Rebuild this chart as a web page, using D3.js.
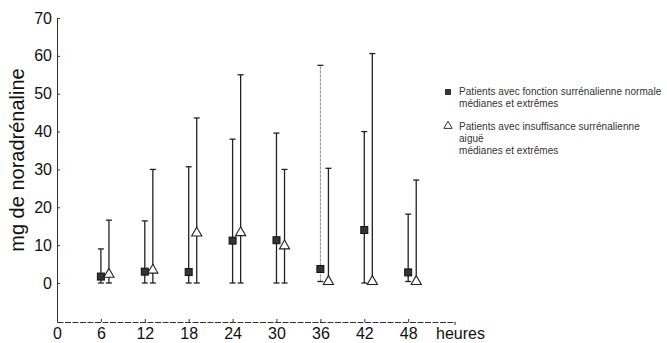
<!DOCTYPE html>
<html>
<head>
<meta charset="utf-8">
<script src="https://cdn.jsdelivr.net/npm/d3@7"></script>
<style>
  body { margin: 0; background: #fff; }
  text { font-family: "Liberation Sans", Arial, sans-serif; fill: #111; }
  .axis path, .axis line { stroke: #333; stroke-width: 1; }
  .legend text { fill: #333; font-size: 10px; letter-spacing: 0.05px; }
</style>
</head>
<body>
<div id="chart"></div>
<script>
// hours (x), medians and extremes for each group
var heures = [6, 12, 18, 24, 30, 36, 42, 48];
var xTicks = [0, 6, 12, 18, 24, 30, 36, 42, 48];
var yTicks = [0, 10, 20, 30, 40, 50, 60, 70];

// patients with normal adrenal function (squares)
var normMed = [1.7, 3.0, 2.9, 11.2, 11.3, 3.7, 14.0, 2.8];
var normMin = [0, 0, 0, 0, 0, 0.4, 0, 0.4];
var normMax = [9.0, 16.4, 30.7, 38.0, 39.6, 57.5, 40.0, 18.2];

// patients with acute adrenal insufficiency (triangles)
var insufMed = [1.9, 3.0, 12.8, 12.9, 9.4, 0, 0, 0];
var insufMin = [0, 0, 0, 0, 0, 0, 0, 0];
var insufMax = [16.6, 30.0, 43.6, 55.0, 30.0, 30.3, 60.6, 27.2];

var legendLabels = [
    ["Patients avec fonction surrénalienne normale", "médianes et extrêmes"],
    ["Patients avec insuffisance surrénalienne", "aiguë", "médianes et extrêmes"]
];

var width = 667, height = 343;

var svg = d3.select("#chart")
    .append("svg")
    .attr("width", width)
    .attr("height", height);

// scales
var xScale = d3.scaleLinear()
    .domain([0, 54.4])
    .range([57, 455]);

var yScale = d3.scaleLinear()
    .domain([-10.3, 70])
    .range([322, 18]);

// x axis
var xAxis = svg.append("g")
    .attr("class", "axis")
    .attr("transform", "translate(0," + yScale(-10.3) + ")")
    .call(d3.axisBottom(xScale)
        .tickValues(xTicks)
        .tickSize(-3)
        .tickSizeOuter(0)
        .tickPadding(6));
xAxis.selectAll("text").style("font-size", "16px");
xAxis.select(".domain").style("stroke-dasharray", "6,1.5");

// small tick at the end of the x axis
xAxis.append("line")
    .attr("x1", xScale(54.4)).attr("x2", xScale(54.4))
    .attr("y1", 0).attr("y2", 3);

// x axis title
svg.append("text")
    .attr("x", 436)
    .attr("y", 339)
    .style("font-size", "16px")
    .text("heures");

// y axis
var yAxis = svg.append("g")
    .attr("class", "axis")
    .attr("transform", "translate(" + xScale(0) + ",0)")
    .call(d3.axisLeft(yScale)
        .tickValues(yTicks)
        .tickSize(-3)
        .tickSizeOuter(0)
        .tickPadding(5));
yAxis.selectAll("text").style("font-size", "16px");

// y axis title
svg.append("text")
    .attr("transform", "translate(24," + 160 + ") rotate(-90)")
    .attr("text-anchor", "middle")
    .style("font-size", "20px")
    .text("mg de noradrénaline");

// build rows for both groups
var normData = heures.map(function (h, i) {
    return { h: h, med: normMed[i], lo: normMin[i], hi: normMax[i] };
});
var insufData = heures.map(function (h, i) {
    return { h: h + 1.1, med: insufMed[i], lo: insufMin[i], hi: insufMax[i] };
});

function drawBars(data, cls) {
    var g = svg.append("g").attr("class", cls);

    g.selectAll("line.whisker")
        .data(data)
        .enter()
        .append("line")
        .attr("class", "whisker")
        .attr("x1", d => xScale(d.h))
        .attr("x2", d => xScale(d.h))
        .attr("y1", d => yScale(d.lo))
        .attr("y2", d => yScale(d.hi))
        .style("stroke", "#222")
        .style("stroke-width", 1.3);

    // caps top and bottom
    ["hi", "lo"].forEach(function (k) {
        g.selectAll("line.cap-" + k)
            .data(data)
            .enter()
            .append("line")
            .attr("class", "cap-" + k)
            .attr("x1", d => xScale(d.h) - 3)
            .attr("x2", d => xScale(d.h) + 3)
            .attr("y1", d => yScale(d[k]))
            .attr("y2", d => yScale(d[k]))
            .style("stroke", "#222")
            .style("stroke-width", 1.3);
    });
    return g;
}

var gNorm = drawBars(normData, "norm");
var gInsuf = drawBars(insufData, "insuf");

// the 36 h whisker of the normal group is drawn faint and dotted
gNorm.selectAll("line.whisker")
    .filter(d => d.h === 36)
    .style("stroke", "#888")
    .style("stroke-width", 1)
    .style("stroke-dasharray", "3,1");

// square markers
gNorm.selectAll("rect")
    .data(normData)
    .enter()
    .append("rect")
    .attr("x", d => xScale(d.h) - 3.5)
    .attr("y", d => yScale(d.med) - 3.5)
    .attr("width", 7)
    .attr("height", 7)
    .style("fill", "#333")
    .style("stroke", "#111")
    .style("stroke-width", 1);

// triangle markers
var tri = d3.symbol().type(d3.symbolTriangle).size(45);
gInsuf.selectAll("path.tri")
    .data(insufData)
    .enter()
    .append("path")
    .attr("class", "tri")
    .attr("transform", d => "translate(" + xScale(d.h) + "," + (yScale(d.med) - 1.5) + ")")
    .attr("d", tri)
    .style("fill", "#fff")
    .style("stroke", "#222")
    .style("stroke-width", 1.1);

// legend
var legend = svg.append("g").attr("class", "legend");

legend.append("rect")
    .attr("x", 445)
    .attr("y", 89)
    .attr("width", 6)
    .attr("height", 6)
    .style("fill", "#333");

legend.append("path")
    .attr("transform", "translate(448,126)")
    .attr("d", d3.symbol().type(d3.symbolTriangle).size(30))
    .style("fill", "#fff")
    .style("stroke", "#333")
    .style("stroke-width", 1);

var legendY = [[95, 107], [130, 142, 154]];
legendLabels.forEach(function (lines, i) {
    lines.forEach(function (t, j) {
        legend.append("text")
            .attr("x", 459)
            .attr("y", legendY[i][j])
            .text(t);
    });
});
</script>
</body>
</html>
